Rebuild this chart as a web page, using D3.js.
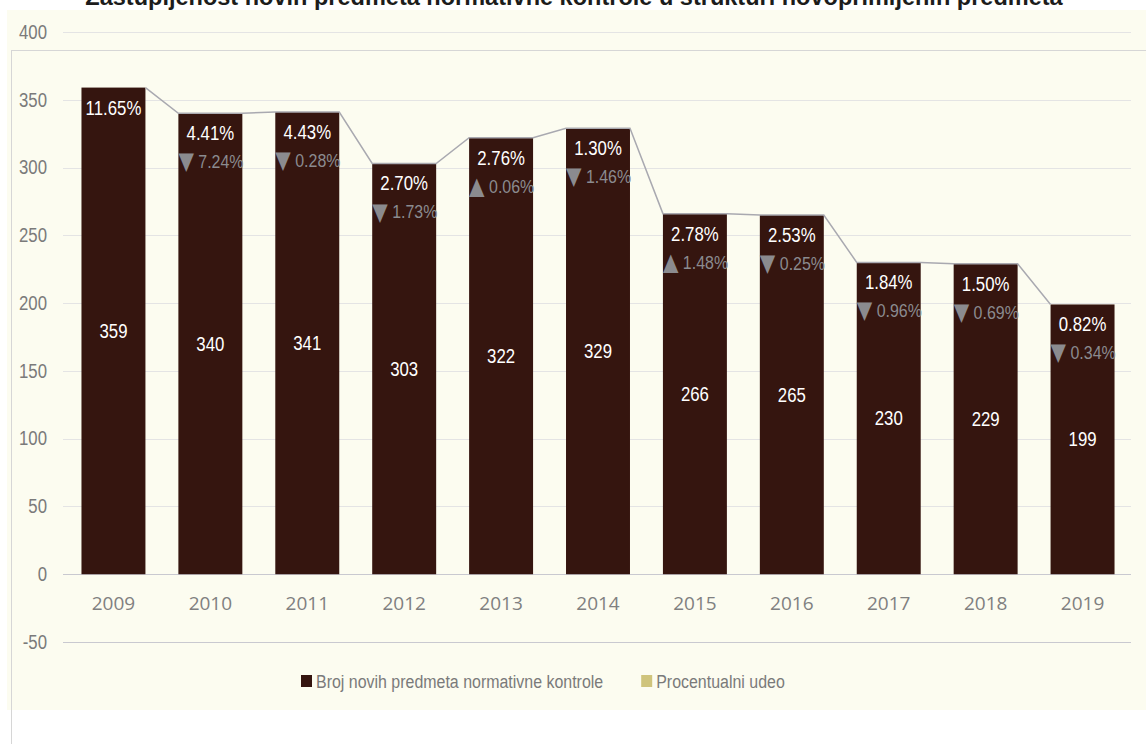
<!DOCTYPE html>
<html>
<head>
<meta charset="utf-8">
<script src="https://cdn.jsdelivr.net/npm/d3@7"></script>
<style>
  html, body { margin: 0; padding: 0; background: #ffffff; }
  svg { display: block; }
</style>
</head>
<body>
<svg id="chart" width="1146" height="744"></svg>
<script>
// Years shown on the category axis
const years = ["2009", "2010", "2011", "2012", "2013", "2014", "2015", "2016", "2017", "2018", "2019"];
// Number of new normative-control cases per year
const caseCounts = [359, 340, 341, 303, 322, 329, 266, 265, 230, 229, 199];
// Share of those cases among all newly received cases (%)
const shares = [11.65, 4.41, 4.43, 2.70, 2.76, 1.30, 2.78, 2.53, 1.84, 1.50, 0.82];
// Year-over-year change of the share (percentage points); first year has none
const shareChanges = [null, -7.24, -0.28, -1.73, 0.06, -1.46, 1.48, -0.25, -0.96, -0.69, -0.34];
// Value-axis ticks
const yTicks = [-50, 0, 50, 100, 150, 200, 250, 300, 350, 400];

const titleText = "Zastupljenost novih predmeta normativne kontrole u strukturi novoprimljenih predmeta";
const legendItems = [
  { label: "Broj novih predmeta normativne kontrole", color: "#35150f" },
  { label: "Procentualni udeo", color: "#cfc47c" }
];

const SANS = "Liberation Sans, Arial, sans-serif";
const NARROW = 0.82; // horizontal squeeze for the condensed label face

const svg = d3.select("#chart");

// Panel background and frame
svg.append("rect").attr("x", 7).attr("y", 10).attr("width", 1139).attr("height", 700).attr("fill", "#fcfcf0");
svg.append("rect").attr("x", 11.5).attr("y", 50.5).attr("width", 1140).attr("height", 720)
  .attr("fill", "none").attr("stroke", "#d6d6d6").attr("stroke-width", 1);

// Title, sized to span its full line
const title = svg.append("text")
  .attr("x", 574).attr("y", 5)
  .attr("text-anchor", "middle")
  .attr("font-family", SANS)
  .attr("font-weight", "bold")
  .attr("font-size", 20)
  .attr("fill", "#1c1c1c")
  .text(titleText);
const tl = title.node().getComputedTextLength();
title.attr("font-size", 20 * 978 / tl);

const x = d3.scaleBand().domain(years).range([65, 1131]).paddingInner(0.34).paddingOuter(0.17);
const y = d3.scaleLinear().domain([-50, 400]).range([642, 32]);

// Condensed text helper: positions a label and squeezes it horizontally
function narrowLabel(g, px, py, str, opts) {
  return g.append("text")
    .attr("transform", `translate(${px},${py}) scale(${opts.squeeze || NARROW},1)`)
    .attr("text-anchor", opts.anchor || "start")
    .attr("font-family", SANS)
    .attr("font-size", opts.size || 20.5)
    .attr("fill", opts.fill)
    .text(str);
}

// Horizontal gridlines
svg.append("g").selectAll("line").data(yTicks).join("line")
  .attr("x1", 63).attr("x2", 1131)
  .attr("y1", d => Math.round(y(d)) + 0.5).attr("y2", d => Math.round(y(d)) + 0.5)
  .attr("stroke", d => (d <= 0 ? "#c9c9d0" : "#e4e4e4"))
  .attr("stroke-width", d => (d <= 0 ? 1.2 : 1));

// Value axis labels
const yAxis = d3.axisLeft(y).tickValues(yTicks).tickSize(0).tickPadding(0).tickFormat(d => String(d));
const yg = svg.append("g").attr("transform", "translate(47,0)").call(yAxis);
yg.select(".domain").remove();
yg.selectAll("text")
  .attr("font-family", SANS)
  .attr("font-size", 19.5)
  .attr("fill", "#7a7a7a")
  .attr("transform", "scale(0.86,1)");

// Category axis labels
const xAxis = d3.axisBottom(x).tickSize(0).tickPadding(0);
const xg = svg.append("g").attr("transform", "translate(0,610)").call(xAxis);
xg.select(".domain").remove();
xg.selectAll("text")
  .attr("font-family", "Open Sans, sans-serif")
  .attr("font-size", 19)
  .attr("fill", "#808080")
  .attr("dy", 0);

// Bars
const bw = x.bandwidth();
svg.append("g").selectAll("rect").data(caseCounts).join("rect")
  .attr("x", (d, i) => x(years[i]))
  .attr("y", d => y(d))
  .attr("width", bw)
  .attr("height", d => y(0) - y(d))
  .attr("fill", "#35150f");

// Line joining the tops of neighbouring bars
const joinPts = [];
caseCounts.forEach((d, i) => {
  joinPts.push([x(years[i]), y(d)]);
  joinPts.push([x(years[i]) + bw, y(d)]);
});
svg.append("path")
  .attr("d", d3.line()(joinPts.slice(1, -1)))
  .attr("fill", "none")
  .attr("stroke", "#a9a9b0")
  .attr("stroke-width", 1.5);

const labels = svg.append("g");
years.forEach((yr, i) => {
  const left = x(yr);
  const top = y(caseCounts[i]);
  // Share near the top of the bar
  narrowLabel(labels, left + bw / 2, top + 27, shares[i].toFixed(2) + "%", { anchor: "middle", fill: "#ffffff" });
  // Change of share with its direction arrow
  const ch = shareChanges[i];
  if (ch !== null) {
    const t = narrowLabel(labels, left, top + 55, "", { size: 19, squeeze: 0.84, fill: "#8b8b8f" });
    t.append("tspan").attr("font-size", 24).attr("font-family", "DejaVu Sans, sans-serif")
      .attr("dy", 1).text(ch < 0 ? "\u25BC" : "\u25B2");
    t.append("tspan").attr("dy", -1).text(" " + Math.abs(ch).toFixed(2) + "%");
  }
  // Count in the middle of the bar
  narrowLabel(labels, left + bw / 2, (top + y(0)) / 2 + 7, String(caseCounts[i]), { anchor: "middle", fill: "#ffffff" });
});

// Legend
const legend = svg.append("g").attr("transform", "translate(301,675)");
let lx = 0;
legendItems.forEach(item => {
  const g = legend.append("g").attr("transform", `translate(${lx},0)`);
  g.append("rect").attr("width", 11).attr("height", 12).attr("fill", item.color);
  const t = narrowLabel(g, 15, 12.5, item.label, { size: 19, squeeze: 0.84, fill: "#7a7a7a" });
  lx += 15 + t.node().getComputedTextLength() * 0.84 + 38;
});
</script>
</body>
</html>
